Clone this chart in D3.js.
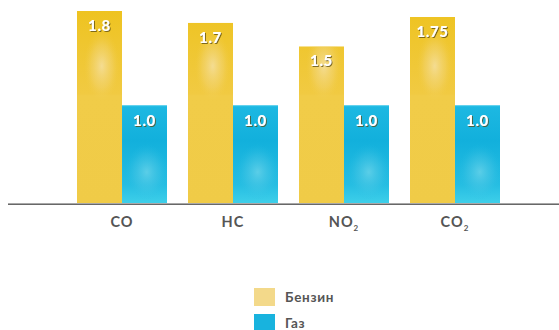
<!DOCTYPE html>
<html>
<head>
<meta charset="utf-8">
<script src="https://cdn.jsdelivr.net/npm/d3@7"></script>
<style>
  html, body { margin: 0; padding: 0; background: #fff; }
  svg { display: block; font-family: Lato, "Open Sans", sans-serif; }
</style>
</head>
<body>
<svg id="chart" width="559" height="330"></svg>
<script>
// Emissions comparison: petrol vs gas (relative units)
const categories = ["CO", "HC", "NO2", "CO2"];
const seriesNames = ["Бензин", "Газ"];
const petrolValues = [1.8, 1.7, 1.5, 1.75];
const gasValues = [1.0, 1.0, 1.0, 1.0];
const valueLabels = [["1.8", "1.0"], ["1.7", "1.0"], ["1.5", "1.0"], ["1.75", "1.0"]];

const svg = d3.select("#chart");
const baseY = 204;

const x0 = d3.scaleBand().domain(categories).range([77, 500]).paddingInner(0.189).paddingOuter(0);
const x1 = d3.scaleBand().domain(seriesNames).range([0, x0.bandwidth()]);
const y = d3.scaleLinear().domain([0.16, 1.8]).range([baseY, 11]);

const defs = svg.append("defs");

// Gold bar: deeper top, glossy highlight in upper part, flat lower body
const gGold = defs.append("linearGradient").attr("id", "goldBase").attr("x1", 0).attr("x2", 0).attr("gradientUnits", "userSpaceOnUse")
  .attr("y1", 0).attr("y2", baseY);
gGold.append("stop").attr("offset", 0).attr("stop-color", "#eec21b");
gGold.append("stop").attr("offset", 0.2).attr("stop-color", "#efc62e");
gGold.append("stop").attr("offset", 0.46).attr("stop-color", "#f1ca42");
gGold.append("stop").attr("offset", 0.47).attr("stop-color", "#f1cc48");
gGold.append("stop").attr("offset", 1).attr("stop-color", "#f0cb47");

const gGlow = defs.append("radialGradient").attr("id", "goldGlow").attr("cx", 0.5).attr("cy", 0.5).attr("r", 0.5);
gGlow.append("stop").attr("offset", 0).attr("stop-color", "#f5e0a2").attr("stop-opacity", 0.85);
gGlow.append("stop").attr("offset", 0.6).attr("stop-color", "#f3d886").attr("stop-opacity", 0.35);
gGlow.append("stop").attr("offset", 1).attr("stop-color", "#f1cc48").attr("stop-opacity", 0);

const gBlue = defs.append("linearGradient").attr("id", "blueBase").attr("x1", 0).attr("x2", 0).attr("gradientUnits", "userSpaceOnUse")
  .attr("y1", 106).attr("y2", baseY);
gBlue.append("stop").attr("offset", 0).attr("stop-color", "#1db8e2");
gBlue.append("stop").attr("offset", 0.35).attr("stop-color", "#12b0dc");
gBlue.append("stop").attr("offset", 0.8).attr("stop-color", "#25bde2");
gBlue.append("stop").attr("offset", 1).attr("stop-color", "#3fd0ea");

const bGlow = defs.append("radialGradient").attr("id", "blueGlow").attr("cx", 0.5).attr("cy", 0.5).attr("r", 0.5);
bGlow.append("stop").attr("offset", 0).attr("stop-color", "#6fd5ea").attr("stop-opacity", 0.75);
bGlow.append("stop").attr("offset", 0.6).attr("stop-color", "#55cae6").attr("stop-opacity", 0.3);
bGlow.append("stop").attr("offset", 1).attr("stop-color", "#2bbfe2").attr("stop-opacity", 0);

const shadow = defs.append("filter").attr("id", "txtShadow").attr("x", "-20%").attr("y", "-20%").attr("width", "140%").attr("height", "160%");
shadow.append("feDropShadow").attr("dx", 1).attr("dy", 1).attr("stdDeviation", 0.6).attr("flood-color", "#5a4a10").attr("flood-opacity", 0.75);

const clip = defs.selectAll("clipPath.bar").data(categories.flatMap((c, i) => [
  { c, s: 0, v: petrolValues[i] }, { c, s: 1, v: gasValues[i] }
])).join("clipPath").attr("class", "bar").attr("id", (d) => `clip-${d.s}-${categories.indexOf(d.c)}`);
clip.append("rect")
  .attr("x", (d) => x0(d.c) + x1(seriesNames[d.s]))
  .attr("y", (d) => y(d.v))
  .attr("width", x1.bandwidth())
  .attr("height", (d) => baseY - y(d.v));

const groups = svg.selectAll("g.grp").data(categories).join("g").attr("class", "grp")
  .attr("transform", (c) => `translate(${x0(c)},0)`);

groups.each(function (c, i) {
  const g = d3.select(this);
  const bw = x1.bandwidth();
  // petrol bar
  const px = x1(seriesNames[0]);
  const py = y(petrolValues[i]);
  const pg = g.append("g").attr("clip-path", `url(#clip-0-${i})`).attr("transform", `translate(${-x0(c)},0)`);
  pg.append("rect").attr("x", x0(c) + px).attr("y", py).attr("width", bw).attr("height", baseY - py).attr("fill", "url(#goldBase)");
  pg.append("ellipse").attr("cx", x0(c) + px + bw * 0.55).attr("cy", 66).attr("rx", bw * 0.4).attr("ry", 36).attr("fill", "url(#goldGlow)");
  // gas bar
  const gx = x1(seriesNames[1]);
  const gy = y(gasValues[i]);
  const gg = g.append("g").attr("clip-path", `url(#clip-1-${i})`).attr("transform", `translate(${-x0(c)},0)`);
  gg.append("rect").attr("x", x0(c) + gx).attr("y", gy).attr("width", bw).attr("height", baseY - gy).attr("fill", "url(#blueBase)");
  gg.append("ellipse").attr("cx", x0(c) + gx + bw * 0.55).attr("cy", 172).attr("rx", bw * 0.48).attr("ry", 28).attr("fill", "url(#blueGlow)");
  gg.append("rect").attr("x", x0(c) + gx).attr("y", gy).attr("width", bw).attr("height", 1).attr("fill", "#5fd2ee");

  // value labels
  g.append("text").attr("x", px + bw / 2).attr("y", py + 20).attr("text-anchor", "middle")
    .attr("fill", "#fff").attr("font-weight", 900).attr("font-size", 15).attr("letter-spacing", 0.6)
    .attr("filter", "url(#txtShadow)").text(valueLabels[i][0]);
  g.append("text").attr("x", gx + bw / 2).attr("y", gy + 21).attr("text-anchor", "middle")
    .attr("fill", "#fff").attr("font-weight", 900).attr("font-size", 15).attr("letter-spacing", 0.6)
    .attr("filter", "url(#txtShadow)").text(valueLabels[i][1]);
});

// baseline
svg.append("line").attr("x1", 8).attr("x2", 559).attr("y1", baseY - 0.5).attr("y2", baseY - 0.5).attr("stroke", "#a8a8a8").attr("stroke-width", 1);
svg.append("line").attr("x1", 8).attr("x2", 559).attr("y1", baseY + 0.5).attr("y2", baseY + 0.5).attr("stroke", "#686868").attr("stroke-width", 1);

// category axis labels (chemical formulas with subscript digits)
const catLabels = svg.append("g").selectAll("text").data(categories).join("text")
  .attr("x", (c) => x0(c) + x0.bandwidth() / 2)
  .attr("y", 227)
  .attr("text-anchor", "middle")
  .attr("fill", "#555")
  .attr("font-weight", 700)
  .attr("font-size", 14.5)
  .attr("letter-spacing", 1);
catLabels.each(function (c) {
  const t = d3.select(this);
  const m = c.match(/^([A-Z]+)(\d*)$/);
  t.append("tspan").text(m[1]);
  if (m[2]) t.append("tspan").attr("font-size", 8).attr("dy", 4).text(m[2]);
});

// legend
const legendColors = ["#f3d98a", "#18b3de"];
const legend = svg.append("g").selectAll("g").data(seriesNames).join("g")
  .attr("transform", (d, i) => `translate(254,${288 + i * 26})`);
legend.append("rect").attr("width", 21).attr("height", 18).attr("fill", (d, i) => legendColors[i]);
legend.append("text").attr("x", 31).attr("y", 14).attr("fill", "#555").attr("font-weight", 700)
  .attr("font-size", 13.5).attr("letter-spacing", 0.7).text((d) => d);
</script>
</body>
</html>
